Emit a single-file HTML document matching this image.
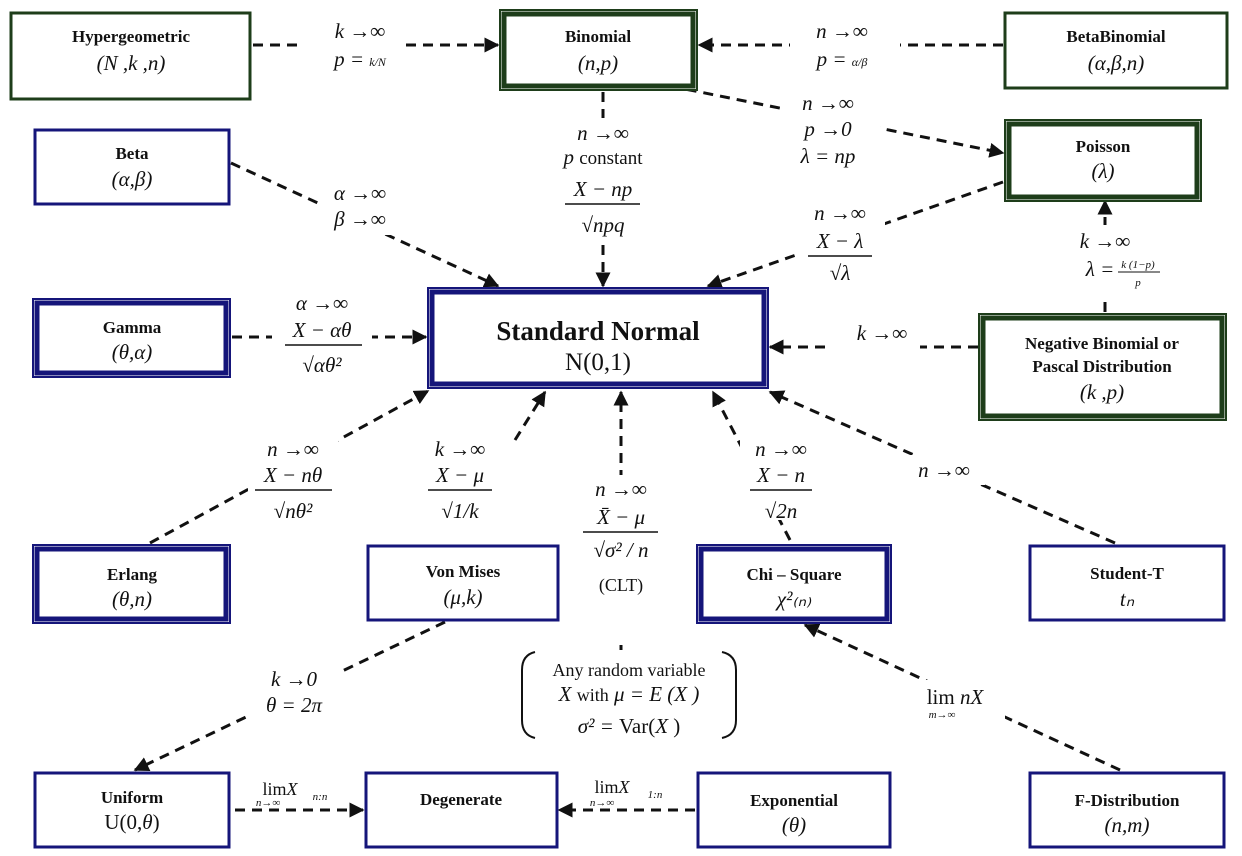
<!DOCTYPE html>
<html><head><meta charset="utf-8"><style>
html,body{margin:0;padding:0;background:#fff;}
svg{display:block;}
text{font-family:"Liberation Serif",serif;fill:#111;}
.b{font-weight:bold;font-size:17px;}
.m{font-style:italic;font-size:21px;}
.r{font-size:21px;}
.s{font-style:italic;font-size:11px;}
.ln{stroke:#111;stroke-width:3;stroke-dasharray:10 7;fill:none;}
.wb{fill:#fff;}
</style></head><body>
<svg width="1242" height="856" viewBox="0 0 1242 856" xmlns="http://www.w3.org/2000/svg">
<defs><marker id="a" viewBox="0 0 10 10" refX="9" refY="5" markerWidth="5" markerHeight="5" orient="auto"><path d="M0,0L10,5L0,10z" fill="#111"/></marker></defs>

<!-- connectors -->
<g class="ln" marker-end="url(#a)">
<line x1="253" y1="45" x2="498" y2="45"/>
<line x1="1003" y1="45" x2="699" y2="45"/>
<line x1="670" y1="86" x2="1003" y2="153"/>
<line x1="603" y1="92" x2="603" y2="286"/>
<line x1="231" y1="163" x2="498" y2="286"/>
<line x1="1003" y1="182" x2="708" y2="286"/>
<line x1="1105" y1="312" x2="1105" y2="201"/>
<line x1="978" y1="347" x2="770" y2="347"/>
<line x1="232" y1="337" x2="426" y2="337"/>
<line x1="150" y1="543" x2="428" y2="391"/>
<line x1="515" y1="440" x2="545" y2="392"/>
<line x1="621" y1="650" x2="621" y2="392"/>
<line x1="790" y1="540" x2="713" y2="392"/>
<line x1="1115" y1="543" x2="770" y2="392"/>
<line x1="445" y1="622" x2="135" y2="770"/>
<line x1="1120" y1="770" x2="805" y2="625"/>
<line x1="235" y1="810" x2="363" y2="810"/>
<line x1="695" y1="810" x2="559" y2="810"/>
</g>

<!-- label backgrounds -->
<g class="wb">
<rect x="300" y="15" width="100" height="60"/>
<rect x="790" y="15" width="110" height="60"/>
<rect x="545" y="118" width="115" height="125"/>
<rect x="780" y="90" width="100" height="80"/>
<rect x="320" y="180" width="80" height="55"/>
<rect x="795" y="200" width="90" height="90"/>
<rect x="1055" y="225" width="100" height="70"/>
<rect x="830" y="320" width="90" height="30"/>
<rect x="272" y="290" width="100" height="90"/>
<rect x="248" y="435" width="90" height="90"/>
<rect x="415" y="435" width="90" height="90"/>
<rect x="575" y="475" width="90" height="170"/>
<rect x="740" y="435" width="80" height="85"/>
<rect x="900" y="455" width="85" height="30"/>
<rect x="250" y="660" width="90" height="60"/>
<rect x="915" y="680" width="90" height="50"/>
<rect x="252" y="780" width="100" height="20"/>
<rect x="585" y="780" width="90" height="20"/>
</g>

<!-- boxes single green -->
<rect x="11" y="13" width="239" height="86" fill="#fff" stroke="#1e3d1a" stroke-width="3"/>
<rect x="1005" y="13" width="222" height="75" fill="#fff" stroke="#1e3d1a" stroke-width="3"/>
<!-- double green -->
<g fill="#fff" stroke="#1e3d1a">
<rect x="500" y="10" width="197" height="80" stroke-width="2"/>
<rect x="504" y="14" width="189" height="72" stroke-width="5"/>
<rect x="1005" y="120" width="196" height="81" stroke-width="2"/>
<rect x="1009" y="124" width="188" height="73" stroke-width="5"/>
<rect x="979" y="314" width="247" height="106" stroke-width="2"/>
<rect x="983" y="318" width="239" height="98" stroke-width="5"/>
</g>
<!-- single blue -->
<g fill="#fff" stroke="#15157a" stroke-width="3">
<rect x="35" y="130" width="194" height="74"/>
<rect x="368" y="546" width="190" height="74"/>
<rect x="1030" y="546" width="194" height="74"/>
<rect x="35" y="773" width="194" height="74"/>
<rect x="366" y="773" width="191" height="74"/>
<rect x="698" y="773" width="192" height="74"/>
<rect x="1030" y="773" width="194" height="74"/>
</g>
<!-- double blue -->
<g fill="#fff" stroke="#15157a">
<rect x="33" y="299" width="197" height="78" stroke-width="2"/>
<rect x="37" y="303" width="189" height="70" stroke-width="5"/>
<rect x="428" y="288" width="340" height="100" stroke-width="2"/>
<rect x="432" y="292" width="332" height="92" stroke-width="5"/>
<rect x="33" y="545" width="197" height="78" stroke-width="2"/>
<rect x="37" y="549" width="189" height="70" stroke-width="5"/>
<rect x="697" y="545" width="194" height="78" stroke-width="2"/>
<rect x="701" y="549" width="186" height="70" stroke-width="5"/>
</g>

<!-- box text -->
<g text-anchor="middle">
<text x="131" y="42" class="b">Hypergeometric</text><text x="131" y="70" class="m">(N ,k ,n)</text>
<text x="598" y="42" class="b">Binomial</text><text x="598" y="70" class="m">(n,p)</text>
<text x="1116" y="42" class="b">BetaBinomial</text><text x="1116" y="70" class="m">(α,β,n)</text>
<text x="1103" y="152" class="b">Poisson</text><text x="1103" y="178" class="m">(λ)</text>
<text x="132" y="159" class="b">Beta</text><text x="132" y="186" class="m">(α,β)</text>
<text x="132" y="333" class="b">Gamma</text><text x="132" y="359" class="m">(θ,α)</text>
<text x="598" y="340" style="font-weight:bold;font-size:27px">Standard Normal</text>
<text x="598" y="370" style="font-size:25px">N(0,1)</text>
<text x="1102" y="349" class="b">Negative Binomial or</text>
<text x="1102" y="372" class="b">Pascal Distribution</text>
<text x="1102" y="399" class="m">(k ,p)</text>
<text x="132" y="580" class="b">Erlang</text><text x="132" y="606" class="m">(θ,n)</text>
<text x="463" y="577" class="b">Von Mises</text><text x="463" y="604" class="m">(μ,k)</text>
<text x="794" y="580" class="b">Chi – Square</text><text x="794" y="606" class="m">χ²₍ₙ₎</text>
<text x="1127" y="579" class="b">Student-T</text><text x="1127" y="606" class="m">tₙ</text>
<text x="132" y="803" class="b">Uniform</text><text x="132" y="829" class="r">U(0,<tspan font-style="italic">θ</tspan>)</text>
<text x="461" y="805" class="b">Degenerate</text>
<text x="794" y="806" class="b">Exponential</text><text x="794" y="832" class="m">(θ)</text>
<text x="1127" y="806" class="b">F-Distribution</text><text x="1127" y="832" class="m">(n,m)</text>
</g>

<!-- labels -->
<g text-anchor="middle">
<text x="360" y="38" class="m">k →∞</text><text x="360" y="66" class="m">p = <tspan font-size="12">k/N</tspan></text>
<text x="842" y="38" class="m">n →∞</text><text x="842" y="66" class="m">p = <tspan font-size="12">α/β</tspan></text>
<text x="603" y="140" class="m">n →∞</text>
<text x="603" y="164" class="m">p <tspan font-style="normal" font-size="19">constant</tspan></text>
<text x="603" y="196" class="m">X − np</text><line x1="565" y1="204" x2="640" y2="204" stroke="#111" stroke-width="1.5"/>
<text x="603" y="232" class="m">√npq</text>
<text x="828" y="110" class="m">n →∞</text><text x="828" y="136" class="m">p →0</text><text x="828" y="163" class="m">λ = np</text>
<text x="360" y="200" class="m">α →∞</text><text x="360" y="226" class="m">β →∞</text>
<text x="840" y="220" class="m">n →∞</text>
<text x="840" y="248" class="m">X − λ</text><line x1="808" y1="256" x2="872" y2="256" stroke="#111" stroke-width="1.5"/>
<text x="840" y="280" class="m">√λ</text>
<text x="1105" y="248" class="m">k →∞</text>
<text x="1100" y="276" class="m">λ = </text><text x="1138" y="268" class="s">k (1−p)</text><line x1="1118" y1="272" x2="1160" y2="272" stroke="#111"/><text x="1138" y="286" class="s">p</text>
<text x="882" y="340" class="m">k →∞</text>
<text x="322" y="310" class="m">α →∞</text>
<text x="322" y="337" class="m">X − αθ</text><line x1="285" y1="345" x2="362" y2="345" stroke="#111" stroke-width="1.5"/>
<text x="322" y="372" class="m">√αθ²</text>
<text x="293" y="456" class="m">n →∞</text>
<text x="293" y="482" class="m">X − nθ</text><line x1="255" y1="490" x2="332" y2="490" stroke="#111" stroke-width="1.5"/>
<text x="293" y="518" class="m">√nθ²</text>
<text x="460" y="456" class="m">k →∞</text>
<text x="460" y="482" class="m">X − μ</text><line x1="428" y1="490" x2="492" y2="490" stroke="#111" stroke-width="1.5"/>
<text x="460" y="518" class="m">√1/k</text>
<text x="621" y="496" class="m">n →∞</text>
<text x="621" y="524" class="m">X̄ − μ</text><line x1="583" y1="532" x2="658" y2="532" stroke="#111" stroke-width="1.5"/>
<text x="621" y="557" class="m">√σ² / n</text>
<text x="621" y="591" style="font-size:18px">(CLT)</text>
<text x="781" y="456" class="m">n →∞</text>
<text x="781" y="482" class="m">X − n</text><line x1="750" y1="490" x2="812" y2="490" stroke="#111" stroke-width="1.5"/>
<text x="781" y="518" class="m">√2n</text>
<text x="944" y="477" class="m">n →∞</text>
<text x="294" y="686" class="m">k →0</text><text x="294" y="712" class="m">θ = 2π</text>
<text x="955" y="704" class="r">lim <tspan font-style="italic">nX</tspan></text><text x="942" y="718" class="s">m→∞</text>
<text x="280" y="795" style="font-size:18px">lim<tspan font-style="italic">X</tspan></text><text x="268" y="806" class="s">n→∞</text><text x="320" y="800" class="s">n:n</text>
<text x="612" y="793" style="font-size:18px">lim<tspan font-style="italic">X</tspan></text><text x="602" y="806" class="s">n→∞</text><text x="655" y="798" class="s">1:n</text>
</g>

<!-- bracket -->
<path d="M535,652 Q522,655 522,670 L522,720 Q522,735 535,738" fill="none" stroke="#111" stroke-width="2"/>
<path d="M722,652 Q736,655 736,670 L736,720 Q736,735 722,738" fill="none" stroke="#111" stroke-width="2"/>
<g text-anchor="middle">
<text x="629" y="676" style="font-size:18px">Any random variable</text>
<text x="629" y="701" class="m">X <tspan font-style="normal" font-size="18">with</tspan> μ = E (X )</text>
<text x="629" y="733" class="m">σ² = <tspan font-style="normal">Var(</tspan>X <tspan font-style="normal">)</tspan></text>
</g>
</svg>
</body></html>
